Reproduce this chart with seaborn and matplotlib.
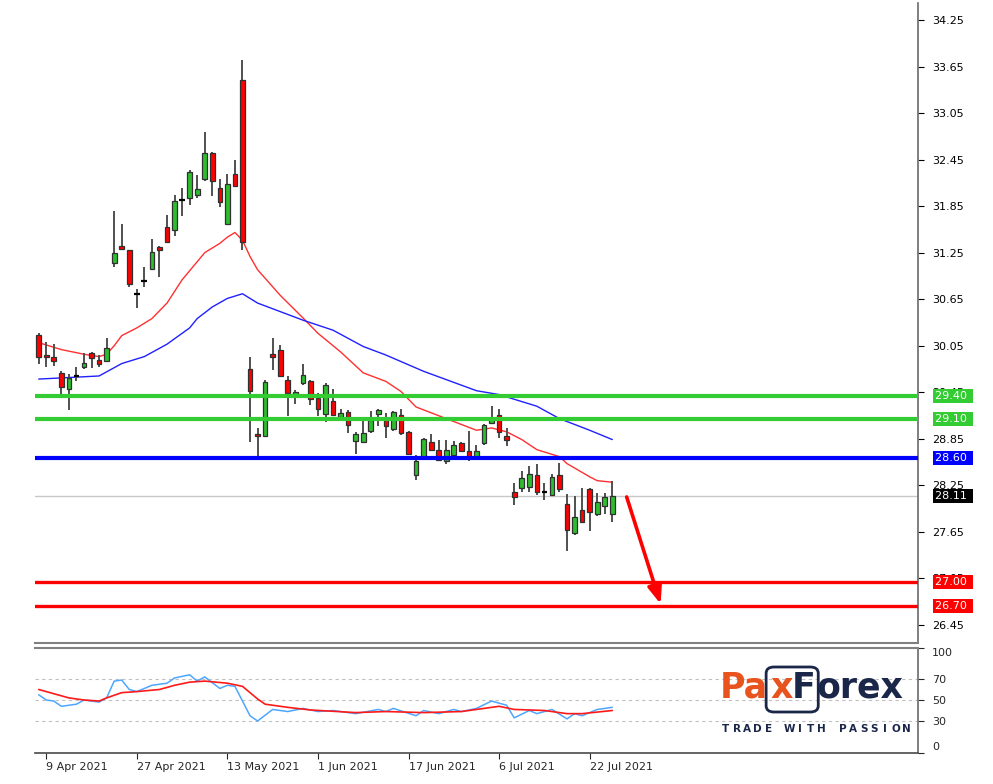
import numpy as np
import pandas as pd
import matplotlib
matplotlib.use("Agg")
import matplotlib.pyplot as plt
import seaborn as sns
from matplotlib.patches import FancyBboxPatch

# ---------------- data ----------------
date_ticks = [1, 13, 25, 37, 49, 61, 73]
date_labels = ["9 Apr 2021", "27 Apr 2021", "13 May 2021", "1 Jun 2021",
               "17 Jun 2021", "6 Jul 2021", "22 Jul 2021"]

opens = [30.19, 29.93, 29.91, 29.70, 29.49, 29.66, 29.78, 29.95, 29.87, 29.85,
         31.12, 31.34, 31.28, 30.72, 30.88, 31.04, 31.32, 31.58, 31.54, 31.93,
         31.96, 31.99, 32.20, 32.54, 32.08, 31.62, 32.27, 33.48, 29.75, 28.91,
         28.89, 29.94, 30.00, 29.61, 29.42, 29.57, 29.59, 29.38, 29.17, 29.34,
         29.13, 29.20, 28.82, 28.81, 28.95, 29.17, 29.09, 28.97, 29.16, 28.94,
         28.38, 28.62, 28.81, 28.70, 28.56, 28.64, 28.79, 28.69, 28.62, 28.79,
         29.05, 29.16, 28.89, 28.17, 28.21, 28.23, 28.38, 28.16, 28.13, 28.38,
         28.01, 27.63, 27.93, 28.20, 27.88, 27.98, 27.88]
highs = [30.21, 30.10, 30.07, 29.72, 29.69, 29.77, 29.95, 29.97, 29.93, 30.15,
         31.79, 31.62, 31.29, 30.78, 31.06, 31.43, 31.33, 31.74, 31.99, 32.08,
         32.32, 32.25, 32.80, 32.55, 32.20, 32.26, 32.45, 33.73, 29.91, 28.99,
         29.61, 30.15, 30.06, 29.66, 29.48, 29.82, 29.61, 29.44, 29.57, 29.49,
         29.24, 29.22, 28.94, 29.09, 29.21, 29.23, 29.18, 29.21, 29.24, 28.95,
         28.64, 28.86, 28.91, 28.83, 28.84, 28.82, 28.81, 28.95, 28.77, 29.04,
         29.27, 29.23, 28.99, 28.28, 28.43, 28.50, 28.52, 28.28, 28.39, 28.54,
         28.14, 28.11, 28.21, 28.21, 28.15, 28.15, 28.31]
lows = [29.81, 29.78, 29.79, 29.42, 29.22, 29.59, 29.75, 29.76, 29.78, 29.84,
        31.07, 31.29, 30.81, 30.53, 30.81, 31.03, 30.94, 31.37, 31.47, 31.72,
        31.87, 31.96, 32.18, 31.98, 31.84, 31.61, 32.10, 31.28, 28.81, 28.62,
        28.88, 29.74, 29.66, 29.14, 29.30, 29.54, 29.29, 29.14, 29.07, 29.14,
        29.12, 28.92, 28.65, 28.80, 28.92, 29.02, 28.86, 28.95, 28.90, 28.64,
        28.32, 28.61, 28.69, 28.57, 28.53, 28.63, 28.68, 28.57, 28.58, 28.77,
        29.05, 28.86, 28.76, 28.00, 28.16, 28.17, 28.12, 28.06, 28.11, 28.17,
        27.40, 27.61, 27.78, 27.66, 27.85, 27.88, 27.78]
closes = [29.90, 29.90, 29.85, 29.52, 29.63, 29.66, 29.83, 29.89, 29.81, 30.02,
          31.25, 31.30, 30.84, 30.72, 30.88, 31.26, 31.29, 31.39, 31.92, 31.93,
          32.29, 32.07, 32.54, 32.17, 31.90, 32.14, 32.11, 31.39, 29.46, 28.88,
          29.58, 29.90, 29.66, 29.44, 29.45, 29.67, 29.36, 29.23, 29.54, 29.16,
          29.18, 29.03, 28.91, 28.93, 29.09, 29.22, 29.01, 29.20, 28.93, 28.65,
          28.56, 28.85, 28.71, 28.58, 28.71, 28.77, 28.69, 28.62, 28.69, 29.03,
          29.12, 28.94, 28.84, 28.10, 28.34, 28.40, 28.17, 28.16, 28.36, 28.20,
          27.68, 27.84, 27.78, 27.90, 28.04, 28.10, 28.11]

ma_fast_idx = [0, 3, 6, 8, 9, 10, 11, 13, 15, 17, 19, 22, 24, 25, 26, 27, 28, 29,
               32, 35, 37, 40, 43, 46, 48, 50, 54, 58, 60, 62, 64, 66, 69, 70, 73, 74, 76]
ma_fast_val = [30.09, 30.00, 29.94, 29.91, 29.94, 30.05, 30.18, 30.28, 30.40, 30.60,
               30.90, 31.25, 31.37, 31.45, 31.51, 31.41, 31.20, 31.03, 30.70, 30.41,
               30.21, 29.97, 29.70, 29.59, 29.46, 29.26, 29.11, 28.96, 28.99, 28.94,
               28.84, 28.71, 28.62, 28.53, 28.36, 28.31, 28.29]
ma_slow_idx = [0, 8, 11, 14, 17, 20, 21, 23, 25, 27, 28, 29, 32, 35, 39, 43, 46, 51,
               58, 61, 66, 69, 73, 76]
ma_slow_val = [29.62, 29.66, 29.82, 29.91, 30.07, 30.28, 30.40, 30.55, 30.66, 30.72,
               30.66, 30.60, 30.49, 30.38, 30.25, 30.04, 29.93, 29.72, 29.47, 29.42,
               29.27, 29.11, 28.96, 28.84]

rsi_idx = [0, 1, 2, 3, 5, 6, 8, 9, 10, 11, 12, 13, 15, 17, 18, 20, 21, 22, 24, 25, 26,
           28, 29, 31, 33, 35, 37, 39, 42, 45, 46, 47, 50, 51, 53, 55, 56, 58, 60, 62,
           63, 65, 66, 68, 70, 71, 72, 74, 76]
rsi_val = [55, 50, 49, 44, 46, 50, 48, 52, 68, 69, 60, 58, 64, 66, 71, 74, 68, 72, 61, 64, 63,
           35, 30, 41, 39, 42, 39, 40, 37, 41, 39, 42, 35, 40, 37, 41, 39, 42, 49, 45,
           33, 40, 37, 41, 32, 37, 35, 41, 43]
sig_idx = [0, 2, 4, 6, 8, 9, 11, 13, 16, 18, 20, 22, 25, 27, 29, 30, 33, 36, 42, 46, 51,
           56, 59, 61, 63, 67, 70, 72, 76]
sig_val = [60, 56, 52, 50, 49, 52, 57, 58, 60, 64, 67, 68, 66, 63, 51, 46, 43, 40.5, 38,
           39, 38, 39, 42, 44, 41, 40, 37, 37, 40]

levels = [29.40, 29.10, 28.60, 27.00, 26.70]
level_colors = ["#33CC33", "#33CC33", "#0000FF", "#FF0000", "#FF0000"]
last_price = 28.11
arrow_from = (77.9, 28.10)
arrow_to = (82.4, 26.72)

price_ticks = [34.25, 33.65, 33.05, 32.45, 31.85, 31.25, 30.65, 30.05, 29.45,
               28.85, 28.25, 27.65, 27.05, 26.45]
rsi_ticks = [0, 30, 50, 70, 100]

# ---------------- figure ----------------
sns.set_theme(style="white")
plt.rcParams['font.family'] = ['DejaVu Sans']

W, H = 993, 784
fig = plt.figure(figsize=(W / 100, H / 100), dpi=100)
fig.patch.set_facecolor("white")
ax = fig.add_axes([35 / W, 1 - 643 / H, (918 - 35) / W, (643 - 3) / H])
axr = fig.add_axes([35 / W, 1 - 752.5 / H, (918 - 35) / W, (752.5 - 647.5) / H])

df = pd.DataFrame({"i": np.arange(len(opens)), "o": opens, "h": highs,
                   "l": lows, "c": closes})

# wicks
ax.vlines(df["i"], df["l"], df["h"], color="#505050", lw=1.4, zorder=3)
# bodies
up = df["c"] > df["o"]
dn = df["c"] < df["o"]
eq = df["c"] == df["o"]
ax.bar(df["i"][up], (df["c"] - df["o"])[up], bottom=df["o"][up], width=0.62,
       color="#2DBE2D", edgecolor="#303030", lw=0.9, zorder=4)
ax.bar(df["i"][dn], (df["o"] - df["c"])[dn], bottom=df["c"][dn], width=0.62,
       color="#FF0000", edgecolor="#303030", lw=0.9, zorder=4)
ax.hlines(df["o"][eq], df["i"][eq] - 0.38, df["i"][eq] + 0.38, color="black",
          lw=1.6, zorder=4)

# moving averages
sns.lineplot(x=ma_fast_idx, y=ma_fast_val, ax=ax, color="#FF3030", lw=1.0, zorder=2)
sns.lineplot(x=ma_slow_idx, y=ma_slow_val, ax=ax, color="#2020FF", lw=1.0, zorder=2)

# levels
ax.axhline(last_price, color="#C8C8C8", lw=1.0, zorder=1)
for lv, col in zip(levels, level_colors):
    lw = 3.0 if col != "#FF0000" else 2.4
    ax.axhline(lv, color=col, lw=lw, zorder=5)

ax.annotate("", xy=arrow_to, xytext=arrow_from,
            arrowprops=dict(arrowstyle="-|>,head_length=0.9,head_width=0.35",
                            color="#FF0000", lw=2.6, shrinkA=0, shrinkB=0), zorder=6)

ax.set_xlim(-0.49, 116.5)
ax.set_ylim(26.217, 34.469)
ax.yaxis.tick_right()
ax.set_yticks(price_ticks)
ax.set_yticklabels([f"{t:.2f}" for t in price_ticks])
ax.tick_params(axis="y", right=True, length=4, width=0.8, colors="black",
               labelsize=8, pad=6)
ax.set_xticks([])
for s in ["top", "left"]:
    ax.spines[s].set_visible(False)
ax.spines["right"].set_color("#707070")
ax.spines["bottom"].set_color("#808080")
ax.spines["bottom"].set_linewidth(1.5)
ax.set_xlabel("")
ax.set_ylabel("")

# price labels
tr = ax.get_yaxis_transform()
for lv, col in zip(levels + [last_price], level_colors + ["black"]):
    ax.text(1.0195, lv, f"{lv:.2f} ", transform=tr, ha="left", va="center",
            color="white", fontsize=8, zorder=10, clip_on=False,
            bbox=dict(boxstyle="square,pad=0.18", fc=col, ec="none"))

# RSI panel
for v in [30, 50, 70]:
    axr.axhline(v, color="#C0C0C0", lw=0.8, ls=(0, (3, 3)), zorder=1)
sns.lineplot(x=sig_idx, y=sig_val, ax=axr, color="#FF1A1A", lw=1.2, zorder=3)
sns.lineplot(x=rsi_idx, y=rsi_val, ax=axr, color="#4DA6FF", lw=1.1, zorder=2)
axr.set_xlim(-0.49, 116.5)
axr.set_ylim(0, 100)
axr.yaxis.tick_right()
axr.set_yticks(rsi_ticks)
axr.set_yticklabels([str(t) for t in rsi_ticks])
axr.tick_params(axis="y", right=True, length=4, width=0.8, labelsize=8, pad=6)
for lab, t in zip(axr.get_yticklabels(), rsi_ticks):
    if t == 100:
        lab.set_va("top")
    elif t == 0:
        lab.set_va("bottom")
axr.set_xticks(date_ticks)
axr.set_xticklabels(date_labels, ha="left", fontsize=8)
axr.tick_params(axis="x", bottom=True, length=4, width=0.8, pad=3)
axr.spines["left"].set_visible(False)
axr.spines["top"].set_color("#808080")
axr.spines["top"].set_linewidth(1.5)
axr.spines["right"].set_color("#707070")
axr.spines["bottom"].set_color("#505050")
axr.set_xlabel("")
axr.set_ylabel("")

# logo
fig.canvas.draw()
renderer = fig.canvas.get_renderer()
orange = "#E8531E"
navy = "#1B2748"
base_y = 1 - 698 / H
logo_font = dict(fontsize=25, fontweight="bold", family="DejaVu Sans", va="baseline")
t1 = fig.text(720 / W, base_y, "Pa", color=orange, **logo_font)
bb = t1.get_window_extent(renderer)
t2 = fig.text(bb.x1 / W + 2 / W, base_y, "x", color=orange, **logo_font)
bb2 = t2.get_window_extent(renderer)
t3 = fig.text(bb2.x1 / W - 1 / W, base_y, "F", color=navy, **logo_font)
bb3 = t3.get_window_extent(renderer)
t4 = fig.text(bb3.x1 / W + 1 / W, base_y, "orex", color=navy, **logo_font)
bx0 = bb2.x0 - 4
bx1 = bb3.x1 + 3
box = FancyBboxPatch((bx0 / W, 1 - 712 / H), (bx1 - bx0) / W, 45 / H,
                     boxstyle="round,pad=0,rounding_size=0.008",
                     transform=fig.transFigure, fc="none", ec=navy, lw=2.0)
fig.patches.append(box)
for k, ch in enumerate("TRADE WITH PASSION"):
    fig.text((726 + k * 10.6) / W, 1 - 729 / H, ch, color=navy, fontsize=7.5,
             fontweight="bold", family="DejaVu Sans", ha="center", va="center")

fig.savefig("out.png", dpi=100, facecolor="white")
